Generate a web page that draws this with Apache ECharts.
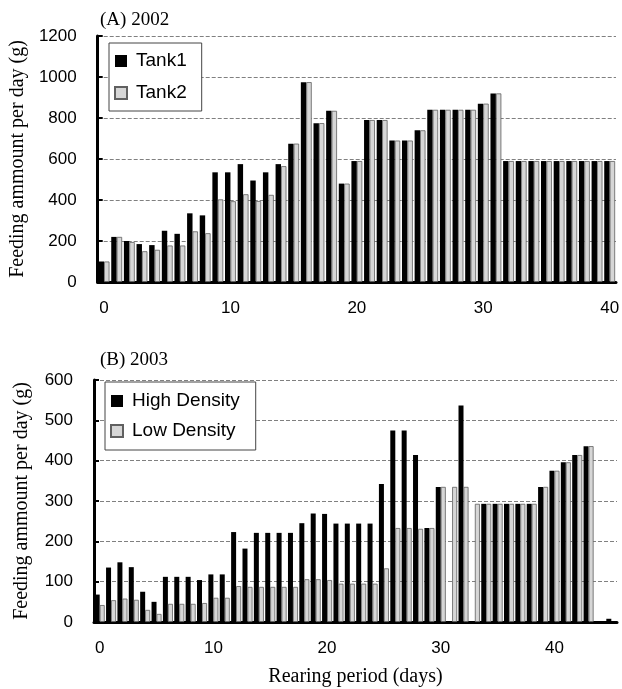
<!DOCTYPE html>
<html>
<head>
<meta charset="utf-8">
<script src="https://cdn.jsdelivr.net/npm/echarts@6/dist/echarts.min.js"></script>
<style>
  html, body { margin: 0; padding: 0; background: #fff; }
  #feedingChart { width: 622px; height: 689px; }
</style>
</head>
<body>
<div id="feedingChart"></div>
<script>
// (A) 2002 : days 0-40
const daysA = Array.from({ length: 41 }, (_, i) => String(i))
const tank1 = [100, 220, 200, 185, 180, 250, 235, 335, 325, 535, 535, 575, 495, 535, 575, 675, 975, 775, 835, 480,
  590, 790, 790, 690, 690, 740, 840, 840, 840, 840, 870, 920, 590, 590, 590, 590, 590, 590, 590, 590, 590]
const tank2 = [100, 220, 195, 150, 157, 178, 178, 247, 238, 403, 394, 428, 395, 425, 565, 675, 975, 775, 835, 480,
  590, 790, 790, 690, 690, 740, 840, 840, 840, 840, 870, 920, 590, 590, 590, 590, 590, 590, 590, 590, 590]

// (B) 2003 : days 0-45
const daysB = Array.from({ length: 46 }, (_, i) => String(i))
const highDensity = [68, 135, 148, 136, 75, 50, 112, 112, 112, 104, 118, 118, 223, 182, 221, 221, 221, 221, 245, 269,
  268, 244, 244, 244, 244, 342, 475, 475, 414, 233, 335, null, 537, null, 293, 293, 293, 293, 293, 335,
  375, 396, 414, 436, null, 8]
const lowDensity = [42, 54, 58, 55, 30, 20, 45, 45, 45, 47, 60, 60, 89, 87, 87, 87, 87, 87, 106, 106,
  104, 95, 95, 95, 95, 133, 233, 233, 231, 233, 335, 335, 335, 293, 293, 293, 293, 293, 293, 335,
  375, 396, 414, 436, null, null]

const serif = 'Liberation Serif'
const sans = 'Liberation Sans'
const yName = 'Feeding ammount per day (g)'

const blackStyle = { color: '#000' }
const grayStyle = { color: '#d6d6d6', borderColor: '#606060', borderWidth: 0.8 }

function makeXAxis(gridIndex, data, withName) {
  return {
    type: 'category',
    gridIndex,
    data,
    name: withName ? 'Rearing period (days)' : '',
    nameLocation: 'middle',
    nameGap: 45,
    nameTextStyle: { fontFamily: serif, fontSize: 20, color: '#000' },
    axisLine: { lineStyle: { color: '#000', width: 3 } },
    axisTick: { interval: 9, length: 6, lineStyle: { color: '#000', width: 2 } },
    axisLabel: { interval: 9, margin: 18, fontFamily: sans, fontSize: 17, color: '#000' },
    splitLine: { show: false }
  }
}

function makeYAxis(gridIndex, max, interval) {
  return {
    type: 'value',
    gridIndex,
    min: 0,
    max,
    interval,
    name: yName,
    nameLocation: 'middle',
    nameRotate: 90,
    nameGap: 62,
    nameTextStyle: { fontFamily: serif, fontSize: 20, color: '#000' },
    axisLine: { show: true, lineStyle: { color: '#000', width: 3 } },
    axisTick: { show: true, inside: true, length: 5, lineStyle: { color: '#000', width: 2 } },
    axisLabel: { margin: 21, fontFamily: sans, fontSize: 17, color: '#000', formatter: v => String(v) },
    splitLine: { show: true, lineStyle: { color: '#808080', width: 1, type: [4, 2] } }
  }
}

const legendBase = {
  orient: 'vertical',
  itemWidth: 12,
  itemHeight: 12,
  icon: 'rect',
  backgroundColor: '#fff',
  borderColor: '#444',
  borderWidth: 1,
  textStyle: { fontFamily: sans, fontSize: 19, color: '#000', lineHeight: 20, padding: [0, 0, 0, 4] }
}

const chart = echarts.init(document.getElementById('feedingChart'), null, { renderer: 'canvas' })

const option = {
  animation: false,
  backgroundColor: '#fff',
  title: [
    { text: '(A) 2002', left: 95, top: 6, textStyle: { fontFamily: serif, fontSize: 19, fontWeight: 'normal', color: '#000' } },
    { text: '(B) 2003', left: 95, top: 346, textStyle: { fontFamily: serif, fontSize: 19, fontWeight: 'normal', color: '#000' } }
  ],
  legend: [
    Object.assign({}, legendBase, {
      data: ['Tank1', 'Tank2'],
      left: 109,
      top: 43,
      padding: [8, 15, 8, 5],
      itemGap: 12
    }),
    Object.assign({}, legendBase, {
      data: ['High Density', 'Low Density'],
      left: 105,
      top: 382,
      padding: [9, 16, 9, 5],
      itemGap: 10
    })
  ],
  grid: [
    { left: 90, top: 36, width: 528, height: 246 },
    { left: 94, top: 380, width: 523, height: 242 }
  ],
  xAxis: [makeXAxis(0, daysA, false), makeXAxis(1, daysB, true)],
  yAxis: [makeYAxis(0, 1200, 200), makeYAxis(1, 600, 100)],
  series: [
    { name: 'Tank1', type: 'bar', xAxisIndex: 0, yAxisIndex: 0, data: tank1, itemStyle: blackStyle, barGap: '0%', barCategoryGap: '14%' },
    { name: 'Tank2', type: 'bar', xAxisIndex: 0, yAxisIndex: 0, data: tank2, itemStyle: grayStyle, barGap: '0%', barCategoryGap: '14%' },
    { name: 'High Density', type: 'bar', xAxisIndex: 1, yAxisIndex: 1, data: highDensity, itemStyle: blackStyle, barGap: '0%', barCategoryGap: '12%' },
    { name: 'Low Density', type: 'bar', xAxisIndex: 1, yAxisIndex: 1, data: lowDensity, itemStyle: grayStyle, barGap: '0%', barCategoryGap: '12%' }
  ]
}

chart.setOption(option)
</script>
</body>
</html>
